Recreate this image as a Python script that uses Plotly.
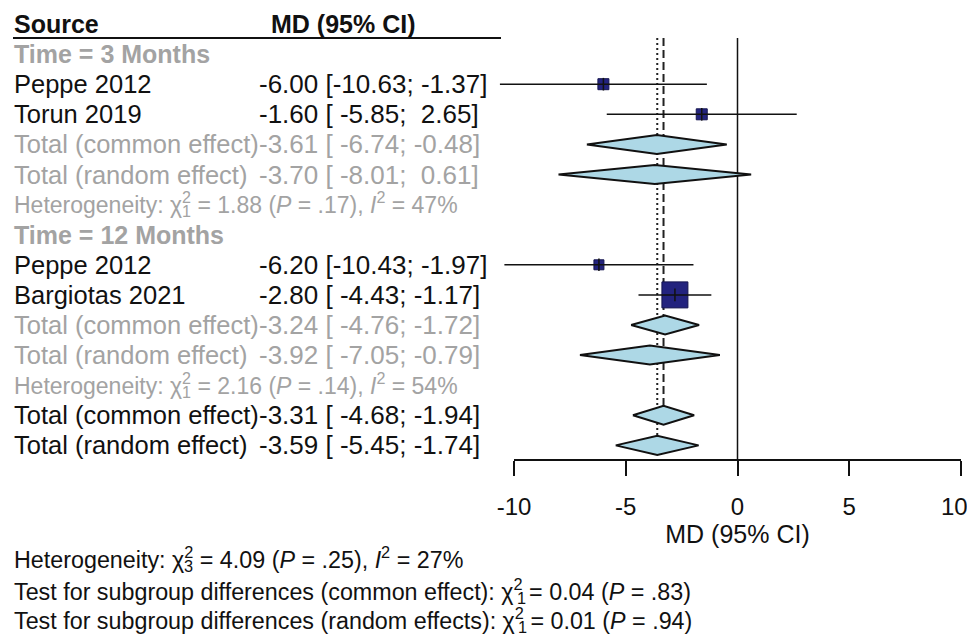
import plotly.graph_objects as go

# ---------------- data ----------------
study_labels = ["Peppe 2012", "Torun 2019", "Peppe 2012", "Bargiotas 2021"]
study_md = [-6.00, -1.60, -6.20, -2.80]
study_lo = [-10.63, -5.85, -10.43, -4.43]
study_hi = [-1.37, 2.65, -1.97, -1.17]
study_rows = [2, 3, 8, 9]

summary_labels = ["Total (common effect)", "Total (random effect)",
                  "Total (common effect)", "Total (random effect)",
                  "Total (common effect)", "Total (random effect)"]
summary_md = [-3.61, -3.70, -3.24, -3.92, -3.31, -3.59]
summary_lo = [-6.74, -8.01, -4.76, -7.05, -4.68, -5.45]
summary_hi = [-0.48, 0.61, -1.72, -0.79, -1.94, -1.74]
summary_rows = [4, 5, 10, 11, 13, 14]
summary_in_subgroup = [True, True, True, True, False, False]

subgroup_labels = ["Time = 3 Months", "Time = 12 Months"]
subgroup_rows = [1, 7]

het_df = [1, 1]
het_chi2 = ["1.88", "2.16"]
het_p = [".17", ".14"]
het_i2 = ["47", "54"]
het_rows = [6, 12]

overall_het_df = 3
overall_het_chi2 = "4.09"
overall_het_p = ".25"
overall_het_i2 = "27"

test_labels = ["common effect", "random effects"]
test_df = [1, 1]
test_chi2 = ["0.04", "0.01"]
test_p = [".83", ".94"]

x_ticks = [-10, -5, 0, 5, 10]
x_ticktext = ["-10", "-5", "0", "5", "10"]
x_title = "MD (95% CI)"
col_headers = ["Source", "MD (95% CI)"]

# ---------------- geometry / style ----------------
OFF = 8                            # page body margin offset
W, H = 975, 639                    # figure size
def fx(px):                        # reference pixel -> figure pixel
    return px - OFF
X0_PX, PPU = fx(737.5), 22.35      # pixel of x=0 and pixels per unit
ROW0_PX, ROW_PX = fx(24.0), 30.1   # pixel of row 0 and row pitch
def row_of(py_ref):
    return (fx(py_ref) - ROW0_PX) / ROW_PX

BLACK = "#111111"
GRAY = "#a3a3a3"
NAVY = "#23237e"
FONT = "Liberation Sans, Arial, Helvetica, sans-serif"
F_ROW = 25.5
F_VAL = 26
F_BOLD = 25
F_HET = 23
F_FOOT = 23.3
DIAMOND_HALF = 9.5 / ROW_PX
SQUARE_SIZES = [11, 11, 10, 26]
LEFT_X = 13
VAL_X = 258
HEAD_VAL_X = 270

# Arial advance widths (per em) for positioning stacked subscripts
AW = {' ': .278, '(': .333, ')': .333, ':': .278, 'H': .722, 'T': .611, 'a': .556,
      'b': .556, 'c': .5, 'd': .556, 'e': .556, 'f': .278, 'g': .556, 'i': .222,
      'm': .833, 'n': .556, 'o': .556, 'p': .556, 'r': .333, 's': .5, 't': .278,
      'u': .556, 'y': .5}
CHI_W = 0.5
def tw(s, size):
    return sum(AW.get(c, .556) for c in s) * size

NB = "\u00a0"
EQ = NB + "=" + NB
def fmt_ci(md, lo, hi):
    s = f"{md:5.2f} [{lo:6.2f}; {hi:5.2f}]"
    return s.replace(" ", NB)

fig = go.Figure()
annotations = []

def add_text(xpx_ref, row, text, size, color, bold=False):
    if bold:
        text = "<b>" + text + "</b>"
    annotations.append(dict(
        x=fx(xpx_ref) / W, xref="paper", y=row, yref="y",
        text=text, showarrow=False, xanchor="left", yanchor="middle",
        font=dict(family=FONT, size=size, color=color), borderpad=0))

def add_chi_line(xpx_ref, row, prefix, df, rest, size, color):
    # main text with superscript; subscript stacked below the superscript
    text = prefix.replace(" ", NB) + "χ<sup>2</sup>" + rest
    add_text(xpx_ref, row, text, size, color)
    sub_x = xpx_ref + tw(prefix, size) + CHI_W * size + 0.5
    annotations.append(dict(
        x=fx(sub_x) / W, xref="paper", y=row + (0.36 * size) / ROW_PX, yref="y",
        text=str(df), showarrow=False, xanchor="left", yanchor="middle",
        font=dict(family=FONT, size=size * 0.7, color=color), borderpad=0))

# vertical reference lines (drawn first, behind marks)
top_row = row_of(38)
axis_row = row_of(460)
fig.add_trace(go.Scatter(x=[0, 0], y=[top_row, axis_row], mode="lines",
                         line=dict(color=BLACK, width=1.5), hoverinfo="skip"))
fig.add_trace(go.Scatter(x=[summary_md[4]] * 2,
                         y=[top_row, summary_rows[4] - DIAMOND_HALF], mode="lines",
                         line=dict(color="#222222", width=2, dash="8px,4px"), hoverinfo="skip"))
fig.add_trace(go.Scatter(x=[summary_md[5]] * 2,
                         y=[top_row, summary_rows[5] - DIAMOND_HALF], mode="lines",
                         line=dict(color="#222222", width=2, dash="2px,3px"), hoverinfo="skip"))

# study squares
fig.add_trace(go.Scatter(x=study_md, y=study_rows, mode="markers", opacity=1,
                         marker=dict(symbol="square", size=SQUARE_SIZES, color=NAVY,
                                     opacity=1, line=dict(color="#15154f", width=1)),
                         hoverinfo="skip"))
# CI lines
cx, cy = [], []
for lo, hi, r in zip(study_lo, study_hi, study_rows):
    cx += [lo, hi, None]
    cy += [r, r, None]
fig.add_trace(go.Scatter(x=cx, y=cy, mode="lines", line=dict(color=BLACK, width=1.5),
                         hoverinfo="skip"))
fig.add_trace(go.Scatter(x=study_md, y=study_rows, mode="markers",
                         marker=dict(symbol="line-ns", size=9, opacity=1,
                                     line=dict(color=BLACK, width=1.5)),
                         hoverinfo="skip"))

# diamonds
for md, lo, hi, r in zip(summary_md, summary_lo, summary_hi, summary_rows):
    fig.add_trace(go.Scatter(
        x=[lo, md, hi, md, lo], y=[r, r - DIAMOND_HALF, r, r + DIAMOND_HALF, r],
        mode="lines", fill="toself", fillcolor="#add8e6",
        line=dict(color=BLACK, width=2), hoverinfo="skip"))

# dummy trace for the visible axis
fig.add_trace(go.Scatter(x=[x_ticks[0], x_ticks[-1]], y=[0, 0], xaxis="x2", yaxis="y2",
                         mode="markers", marker=dict(opacity=0), hoverinfo="skip"))

# ---------------- text ----------------
add_text(LEFT_X, 0, col_headers[0], F_BOLD, BLACK, bold=True)
add_text(HEAD_VAL_X, 0, col_headers[1], F_BOLD, BLACK, bold=True)
for lab, r in zip(subgroup_labels, subgroup_rows):
    add_text(LEFT_X, r, lab, F_BOLD, GRAY, bold=True)
for lab, md, lo, hi, r in zip(study_labels, study_md, study_lo, study_hi, study_rows):
    add_text(LEFT_X, r, lab, F_ROW, BLACK)
    add_text(VAL_X, r, fmt_ci(md, lo, hi), F_VAL, BLACK)
for lab, md, lo, hi, r, sub in zip(summary_labels, summary_md, summary_lo, summary_hi,
                                   summary_rows, summary_in_subgroup):
    col = GRAY if sub else BLACK
    add_text(LEFT_X, r, lab, F_ROW, col)
    add_text(VAL_X, r, fmt_ci(md, lo, hi), F_VAL, col)
for df, c2, p, i2, r in zip(het_df, het_chi2, het_p, het_i2, het_rows):
    rest = (EQ + c2 + NB + "(<i>P</i>" + EQ + p + ")," + NB + "<i>I</i><sup>2</sup>" + EQ + i2 + "%")
    add_chi_line(LEFT_X, r - 0.05, "Heterogeneity: ", df, rest, F_HET, GRAY)

foot_rows = [row_of(558), row_of(590), row_of(619)]
rest = (EQ + overall_het_chi2 + NB + "(<i>P</i>" + EQ + overall_het_p + ")," + NB +
        "<i>I</i><sup>2</sup>" + EQ + overall_het_i2 + "%")
add_chi_line(LEFT_X, foot_rows[0], "Heterogeneity: ", overall_het_df, rest, F_FOOT, BLACK)
for lab, df, c2, p, r in zip(test_labels, test_df, test_chi2, test_p, foot_rows[1:]):
    rest = EQ + c2 + NB + "(<i>P</i>" + EQ + p + ")"
    add_chi_line(LEFT_X, r, f"Test for subgroup differences ({lab}): ", df, rest, F_FOOT, BLACK)

# header rule
shapes = [dict(type="line", xref="paper", yref="y", x0=fx(LEFT_X) / W, x1=fx(501) / W,
               y0=top_row, y1=top_row, line=dict(color=BLACK, width=2))]

# keep the right-most tick label inside the visible window
tick_labels = x_ticktext[:-1] + [x_ticktext[-1] + NB * 2]

fig.update_layout(
    width=W, height=H, autosize=False,
    margin=dict(l=0, r=0, t=0, b=0, pad=0, autoexpand=False),
    paper_bgcolor="white", plot_bgcolor="rgba(0,0,0,0)",
    showlegend=False,
    annotations=annotations, shapes=shapes,
    xaxis=dict(domain=[0, 1], range=[-X0_PX / PPU, (W - X0_PX) / PPU], visible=False,
               automargin=False),
    yaxis=dict(domain=[0, 1], range=[(H - ROW0_PX) / ROW_PX, -ROW0_PX / ROW_PX],
               visible=False, automargin=False),
    xaxis2=dict(domain=[(X0_PX + x_ticks[0] * PPU) / W, (X0_PX + x_ticks[-1] * PPU) / W],
                range=[x_ticks[0], x_ticks[-1]], anchor="free", position=1 - fx(460) / H,
                tickvals=x_ticks, ticktext=tick_labels,
                ticks="outside", ticklen=15, tickwidth=1.5, tickcolor=BLACK,
                ticklabelstandoff=10, automargin=False,
                showline=True, linecolor=BLACK, linewidth=1.5, showgrid=False,
                zeroline=False, tickfont=dict(family=FONT, size=24, color=BLACK),
                title=dict(text=x_title, font=dict(family=FONT, size=25, color=BLACK),
                           standoff=2)),
    yaxis2=dict(domain=[0, 1], anchor="x2", range=[0, 1], visible=False),
)

fig.write_html("out.html")
